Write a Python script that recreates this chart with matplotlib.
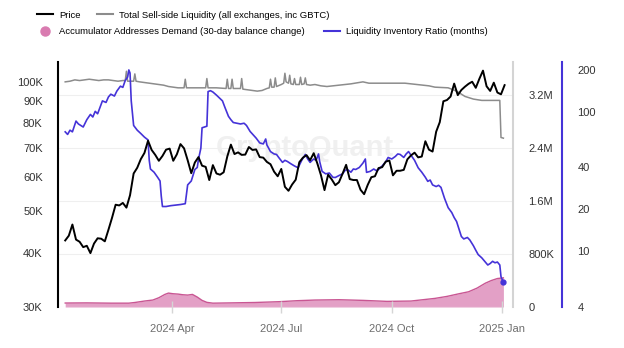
import datetime as dt
import matplotlib
matplotlib.use("Agg")
import matplotlib.pyplot as plt
from matplotlib.lines import Line2D
from matplotlib.ticker import FixedLocator, NullLocator
import pandas as pd

plt.rcParams['font.family'] = ['Liberation Sans', 'DejaVu Sans']

base = dt.datetime(2024, 1, 1)

# BTC price (USD), every 3 days from 2024-01-03
price = [42.8, 43.9, 46.6, 43.0, 42.5, 41.3, 41.6, 40.0, 42.1, 43.3,
         43.2, 42.6, 45.3, 48.3, 51.8, 51.6, 52.3, 51.0, 54.5, 61.2,
         63.1, 66.1, 68.3, 72.9, 69.4, 67.6, 65.5, 67.2, 69.5, 69.9,
         65.5, 67.8, 71.6, 70.0, 65.7, 61.3, 64.9, 66.8, 63.8, 63.4,
         59.1, 64.0, 61.2, 60.8, 61.6, 67.0, 71.4, 67.9, 68.5, 67.6,
         67.7, 70.5, 69.4, 69.6, 66.8, 66.6, 65.1, 64.3, 61.8, 60.3,
         62.7, 57.0, 55.8, 57.7, 59.2, 65.0, 66.6, 67.5, 65.7, 68.2,
         64.6, 60.7, 56.0, 60.8, 59.3, 57.5, 58.4, 61.1, 64.1, 59.4,
         59.1, 59.1, 56.1, 54.8, 57.6, 60.0, 60.3, 63.0, 63.3, 65.2,
         65.6, 60.6, 62.1, 62.1, 62.4, 66.0, 67.4, 68.4, 66.7, 67.0,
         72.7, 69.5, 68.8, 76.5, 80.5, 90.0, 90.6, 92.3, 98.9, 93.0,
         95.6, 97.3, 98.8, 99.9, 96.7, 101.5, 106.0, 97.5, 95.1, 99.4,
         94.3, 93.4, 98.1]
price_dates = pd.date_range('2024-01-03', periods=len(price), freq='3D')

# Liquidity Inventory Ratio (months): day offset from 2024-01-01, value
ratio_day = [2, 4, 6, 8, 11, 13, 15, 17, 20, 23, 25, 27, 29, 31, 33, 36, 38, 40,
             43, 45, 48, 50, 52, 54, 55, 56, 57, 59, 62, 65, 68, 71, 72, 73, 76,
             79, 81, 82, 83, 86, 90, 94, 98, 102, 104, 107, 110, 112, 113, 115,
             116, 118, 120, 121, 123, 125, 128, 130, 133, 135, 138, 140, 142,
             145, 148, 151, 153, 156, 159, 161, 164, 167, 169, 170, 173, 176,
             178, 180, 183, 185, 187, 190, 193, 196, 199, 202, 204, 206, 209,
             211, 213, 214, 216, 219, 222, 225, 227, 230, 233, 235, 237, 240,
             242, 244, 247, 250, 252, 253, 256, 259, 261, 263, 266, 269, 271,
             274, 277, 279, 281, 284, 286, 288, 290, 293, 296, 299, 302, 304,
             306, 308, 311, 313, 315, 318, 321, 324, 326, 328, 330, 332, 334,
             337, 339, 342, 344, 346, 349, 352, 354, 356, 358, 360, 362, 364,
             365, 367]
ratio = [72, 69, 74, 72, 86, 82, 80, 78, 88, 96, 92, 101, 97, 108, 120, 117, 128,
         134, 130, 141, 153, 150, 168, 178, 200, 190, 120, 80, 74, 70, 66, 63,
         45, 39, 37, 34, 32, 25, 21, 21, 21.3, 21.5, 21.7, 22, 30, 32, 38.7, 40,
         45.7, 55, 77, 78, 79, 140, 142, 139, 132, 127, 120, 108, 93, 88, 84,
         83, 82, 83, 80, 72.5, 68, 65, 60, 59, 64, 58, 52, 50, 49.6, 47, 43.5,
         45, 44.2, 42.5, 41, 39.8, 45, 49.6, 46, 43.5, 46, 45, 50, 44, 37.5, 36,
         36.5, 34, 33.9, 35, 36, 38, 38.7, 37, 39, 38.7, 40, 43, 46, 36.9, 37.5,
         39, 38, 38.7, 41, 44, 47.2, 46, 48, 50, 49.6, 47.2, 50, 52, 49, 45,
         39.8, 37, 34, 31.8, 32.5, 30, 29.2, 29.8, 28.8, 24, 20.6, 19, 17.5,
         16.4, 14.5, 12.8, 12.3, 12.6, 12.1, 11, 10.2, 9.5, 9.0, 8.4, 8.0, 8.2,
         8.5, 8.3, 8.4, 8.0, 6.6, 6.0]

# Total Sell-side Liquidity (millions BTC)
liq_day = [2, 6, 10, 14, 18, 22, 26, 30, 34, 38, 42, 46, 50, 52, 53, 54, 57, 59,
           60, 61, 64, 68, 72, 76, 80, 84, 88, 92, 96, 101, 102, 103, 110, 119,
           120, 121, 128, 136, 137, 138, 140, 141, 142, 148, 149, 150, 154, 158,
           162, 166, 170, 172, 173, 174, 176, 177, 178, 182, 184, 185, 186, 188,
           189, 190, 192, 193, 194, 197, 198, 199, 201, 202, 203, 206, 210, 215,
           220, 230, 240, 250, 255, 265, 275, 285, 295, 305, 310, 321, 328, 335,
           342, 349, 356, 364, 365, 367]
liq = [3.40, 3.41, 3.43, 3.42, 3.43, 3.44, 3.43, 3.42, 3.43, 3.43, 3.42, 3.41,
       3.42, 3.42, 3.56, 3.41, 3.41, 3.41, 3.52, 3.41, 3.40, 3.39, 3.38, 3.37,
       3.36, 3.35, 3.33, 3.32, 3.31, 3.31, 3.44, 3.31, 3.31, 3.31, 3.45, 3.31,
       3.31, 3.30, 3.44, 3.30, 3.30, 3.44, 3.30, 3.30, 3.45, 3.29, 3.28, 3.27,
       3.26, 3.27, 3.30, 3.31, 3.44, 3.32, 3.32, 3.46, 3.33, 3.36, 3.38, 3.53,
       3.40, 3.38, 3.50, 3.37, 3.36, 3.45, 3.36, 3.36, 3.47, 3.36, 3.37, 3.46,
       3.36, 3.35, 3.36, 3.34, 3.33, 3.35, 3.37, 3.40, 3.38, 3.38, 3.38, 3.38,
       3.36, 3.34, 3.32, 3.31, 3.26, 3.18, 3.14, 3.12, 3.12, 3.12, 2.56, 2.55]

# Accumulator Addresses Demand (thousand BTC)
dem_day = [2, 20, 40, 55, 60, 68, 75, 80, 85, 88, 92, 96, 100, 104, 108, 112, 116,
           120, 125, 140, 160, 180, 195, 210, 230, 250, 270, 290, 300, 310, 320,
           330, 338, 345, 352, 357, 362, 367]
demand = [60, 62, 58, 58, 68, 90, 105, 140, 190, 210, 200, 195, 185, 180, 190,
          150, 100, 70, 58, 62, 68, 80, 95, 105, 110, 100, 85, 90, 110, 130, 160,
          200, 230, 285, 360, 400, 430, 440]

ratio_dates = [base + dt.timedelta(days=d) for d in ratio_day]
liq_dates = [base + dt.timedelta(days=d) for d in liq_day]
dem_dates = [base + dt.timedelta(days=d) for d in dem_day]

price_ticks = [30, 40, 50, 60, 70, 80, 90, 100]
liq_ticks = [0, 0.8, 1.6, 2.4, 3.2]
liq_labels = ['0', '800K', '1.6M', '2.4M', '3.2M']
ratio_ticks = [4, 10, 20, 40, 100, 200]
x_ticks = [dt.datetime(2024, 4, 1), dt.datetime(2024, 7, 1),
           dt.datetime(2024, 10, 1), dt.datetime(2025, 1, 1)]
x_labels = ['2024 Apr', '2024 Jul', '2024 Oct', '2025 Jan']

BLUE = '#4533d8'
GRAY = '#8c8c8c'
PINK_FILL = '#e3a0c6'
PINK_LINE = '#c95693'

fig = plt.figure(figsize=(6.24, 3.48), dpi=100)
ax = fig.add_axes([58 / 624, 41 / 348, 455 / 624, 245 / 348])
ax2 = ax.twinx()
ax3 = ax.twinx()

# sell-side liquidity + demand (linear axis)
ax2.fill_between(dem_dates, [d / 1000 for d in demand], 0, color=PINK_FILL, lw=0, zorder=1)
ax2.plot(dem_dates, [d / 1000 for d in demand], color=PINK_LINE, lw=1.0, zorder=2)
ax2.plot(liq_dates, liq, color=GRAY, lw=1.1, zorder=3)
ax2.set_ylim(0, 3.7)
ax2.yaxis.set_major_locator(FixedLocator(liq_ticks))
ax2.set_yticklabels(liq_labels)
ax2.grid(axis='y', color='#efefef', lw=0.8, zorder=0)
ax2.text(0.543, 0.65, 'CryptoQuant', transform=ax2.transAxes, fontsize=21,
         color='#f0f0f0', ha='center', va='center', fontweight='bold', zorder=0.5)

# inventory ratio (log axis, outer right)
ax3.plot(ratio_dates, ratio, color=BLUE, lw=1.2)
ax3.plot(ratio_dates[-1], ratio[-1], 'o', color=BLUE, ms=3.5)
ax3.set_yscale('log')
ax3.set_ylim(4, 228)
ax3.yaxis.set_major_locator(FixedLocator(ratio_ticks))
ax3.yaxis.set_minor_locator(NullLocator())
ax3.set_yticklabels([str(t) for t in ratio_ticks])
ax3.spines['right'].set_position(('outward', 35.3))

# price on top
ax.plot(price_dates, [p * 1000 for p in price], color='black', lw=1.4, zorder=5)
ax.set_yscale('log')
ax.set_ylim(30000, 111000)
ax.yaxis.set_major_locator(FixedLocator([p * 1000 for p in price_ticks]))
ax.yaxis.set_minor_locator(NullLocator())
ax.set_yticklabels([f'{p}K' for p in price_ticks])
ax.set_zorder(ax3.get_zorder() + 1)
ax.patch.set_visible(False)

ax.set_xlim(dt.datetime(2023, 12, 28), dt.datetime(2025, 1, 10))
ax.set_xticks(x_ticks)
ax.set_xticklabels(x_labels)
ax.tick_params(axis='x', colors='#d5d5d5', labelcolor='#6e6e6e', length=8,
               direction='inout', width=1, labelsize=8, pad=8)

for a in (ax, ax2, ax3):
    for s in ('top', 'bottom', 'left', 'right'):
        a.spines[s].set_visible(False)
ax.spines['left'].set_visible(True)
ax.spines['left'].set_color('black')
ax.spines['left'].set_linewidth(1.5)
ax2.spines['right'].set_visible(True)
ax2.spines['right'].set_color('#d4d4d4')
ax2.spines['right'].set_linewidth(1.5)
ax3.spines['right'].set_visible(True)
ax3.spines['right'].set_color(BLUE)
ax3.spines['right'].set_linewidth(1.5)

ax.tick_params(axis='y', length=0, pad=11, labelsize=8, labelcolor='#333333')
ax2.tick_params(axis='y', length=0, pad=11, labelsize=8, labelcolor='#333333')
ax3.tick_params(axis='y', which='both', length=0, pad=11, labelsize=8, labelcolor='#333333')

# legends (two rows)
row1 = [Line2D([], [], color='black', lw=1.5), Line2D([], [], color=GRAY, lw=1.5)]
row2 = [Line2D([], [], ls='none', marker='o', ms=6.5, color='#d97bb0'),
        Line2D([], [], color=BLUE, lw=1.5)]
leg_kw = dict(loc='center left', ncol=2, frameon=False, fontsize=6.8,
              handlelength=1.7, handletextpad=0.65, borderpad=0, borderaxespad=0)
leg1 = fig.legend(row1, ['Price', 'Total Sell-side Liquidity (all exchanges, inc GBTC)'],
                  bbox_to_anchor=(37 / 624, 1 - 15 / 348), columnspacing=1.7, **leg_kw)
fig.legend(row2, ['Accumulator Addresses Demand (30-day balance change)',
                  'Liquidity Inventory Ratio (months)'],
           bbox_to_anchor=(37 / 624, 1 - 32 / 348), columnspacing=2.0, **leg_kw)

fig.savefig('out.png', dpi=100, facecolor='white')
